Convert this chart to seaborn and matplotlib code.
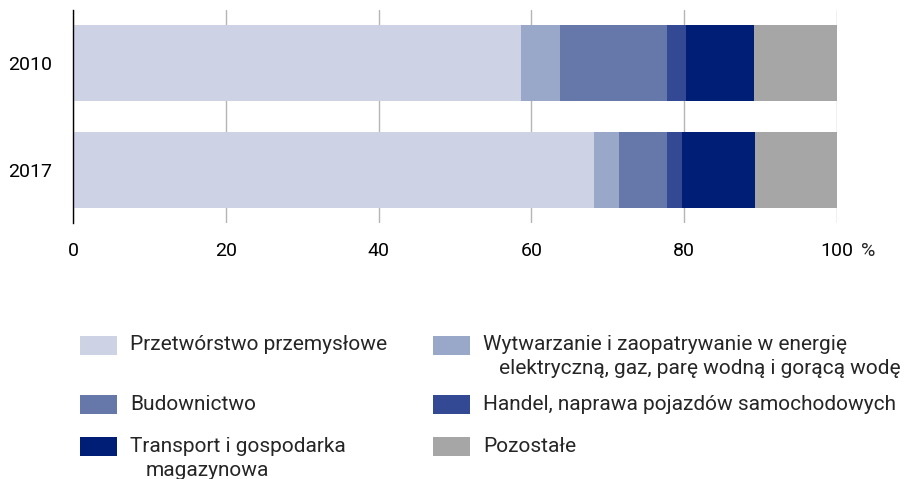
import matplotlib
matplotlib.use('Agg')
import matplotlib.pyplot as plt
from matplotlib.patches import Rectangle
import seaborn as sns
import pandas as pd
import numpy as np

# data (shares in %)
years = ['2010', '2017']
sectors = ['Przetwórstwo przemysłowe',
           'Wytwarzanie i zaopatrywanie w energię elektryczną, gaz, parę wodną i gorącą wodę',
           'Budownictwo',
           'Handel, naprawa pojazdów samochodowych',
           'Transport i gospodarka magazynowa',
           'Pozostałe']
share_2010 = [58.6, 5.1, 14.1, 2.5, 8.8, 10.9]
share_2017 = [68.2, 3.3, 6.3, 1.85, 9.65, 10.7]
colors = ['#cdd2e5', '#99a7c9', '#6677aa', '#344993', '#001e75', '#a6a6a6']

# legend labels as printed (with wrapped lines)
legend_lines = [['Przetwórstwo przemysłowe'],
                ['Wytwarzanie i zaopatrywanie w energię', 'elektryczną, gaz, parę wodną i gorącą wodę'],
                ['Budownictwo'],
                ['Handel, naprawa pojazdów samochodowych'],
                ['Transport i gospodarka', 'magazynowa'],
                ['Pozostałe']]

sns.set_style('white')
plt.rcParams['font.family'] = ['Roboto', 'DejaVu Sans']

W, H = 920, 479
fig = plt.figure(figsize=(W / 100, H / 100), dpi=100)
ax = fig.add_axes([73 / W, 1 - 223 / H, (837 - 73) / W, (223 - 10) / H])

df = pd.DataFrame({'year': years * len(sectors),
                   'sector': np.repeat(sectors, len(years)),
                   'share': [v for pair in zip(share_2010, share_2017) for v in pair]})
df['cum'] = df.groupby('year')['share'].cumsum()

# stacked bars: draw cumulative totals from the last sector backwards
for sec, col in list(zip(sectors, colors))[::-1]:
    sub = df[df['sector'] == sec]
    sns.barplot(data=sub, x='cum', y='year', order=years, color=col,
                orient='h', width=0.71, linewidth=0, saturation=1, ax=ax)

ax.set_xlim(0, 100)
ax.set_ylim(1.5, -0.5)
ax.set_xticks([0, 20, 40, 60, 80, 100])
ax.set_xticklabels(['0', '20', '40', '60', '80', '100'])
ax.grid(axis='x', color='#b5b5b5', linewidth=1)
ax.set_axisbelow(True)
ax.set_xlabel('')
ax.set_ylabel('')
for s in ['top', 'right', 'bottom']:
    ax.spines[s].set_visible(False)
ax.spines['left'].set_color('black')
ax.spines['left'].set_linewidth(1)
ax.spines['left'].set_zorder(5)
ax.tick_params(axis='both', length=0, labelsize=14, colors='black')
ax.tick_params(axis='x', pad=14)
ax.tick_params(axis='y', pad=15)
ax.annotate('%', xy=(100, 0), xycoords=('data', 'axes fraction'),
            xytext=(22.5, -14), textcoords='offset points',
            ha='center', va='top', fontsize=14)

# legend drawn by hand to keep the wrapped layout
col_x = [80, 433]
row_y = [345, 404.5, 446.5]
for i, (lines, col) in enumerate(zip(legend_lines, colors)):
    c, r = i % 2, i // 2
    x0, yc = col_x[c], row_y[r]
    fig.add_artist(Rectangle((x0 / W, 1 - (yc + 9.5) / H), 37 / W, 19 / H,
                             transform=fig.transFigure, color=col, lw=0))
    fig.text((x0 + 50) / W, 1 - yc / H, lines[0], ha='left', va='center', fontsize=15)
    if len(lines) > 1:
        fig.text((x0 + 66) / W, 1 - (yc + 24) / H, lines[1], ha='left', va='center', fontsize=15)

fig.savefig('out.png', dpi=100)
